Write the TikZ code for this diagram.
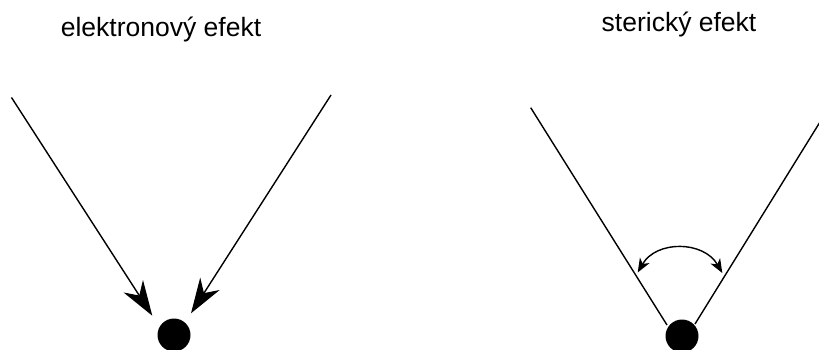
\documentclass[tikz,border=0pt]{standalone}
\usepackage{fontspec}
\setmainfont{Liberation Sans}
\usetikzlibrary{arrows.meta}
\begin{document}
\begin{tikzpicture}[x=1pt,y=-1pt,
  label text/.style={anchor=base,inner sep=0pt,font=\fontsize{26.5}{30}\selectfont},
  ball/.style={circle,fill=black,inner sep=0pt,minimum size=33pt},
  ray/.style={line width=1.4pt},
  big arrow/.style={ray,-{Stealth[length=35pt,width=23pt,inset=11pt]}},
  swing/.style={ray,{Stealth[length=14pt,width=11pt,inset=4pt]}-{Stealth[length=14pt,width=11pt,inset=4pt]}}]
\useasboundingbox (0,0) rectangle (819,350);
\fill[white] (0,0) rectangle (819,350);

% electronic effect: two arrows pointing at the atom
\node[label text] (tel) at (161,37) {elektronový efekt};
\node[ball] (b1) at (174,335) {};
\coordinate (e1) at (11.5,97.5);
\coordinate (e2) at (331,95);
\coordinate (t1) at (152.3,315.7);
\coordinate (t2) at (191,313.3);
\draw[big arrow] (e1) -- (t1);
\draw[big arrow] (e2) -- (t2);

% steric effect: two bonds with an angle arrow between them
\node[label text] (tst) at (679,32) {sterický efekt};
\node[ball] (b2) at (682,336) {};
\coordinate (s1) at (530.7,107.7);
\coordinate (s2) at (820,122);
\coordinate (u1) at (667,325);
\coordinate (u2) at (695,324);
\draw[ray] (s1) -- (u1);
\draw[ray] (s2) -- (u2);
\coordinate (a1) at (637.7,272.5);
\coordinate (a2) at (722.3,273);
\draw[swing] (a1) to[out=60,in=120,looseness=1.13] (a2);
\end{tikzpicture}
\end{document}
